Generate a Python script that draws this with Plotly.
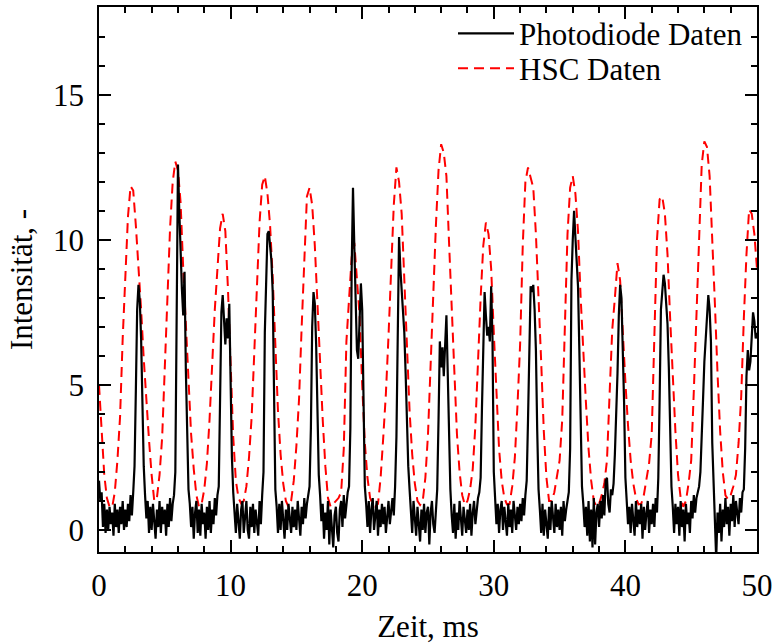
import numpy as np
import plotly.graph_objects as go

# ---------------- data ----------------
# Photodiode signal, sampled every 0.1 ms from 0.0 to 50.0 ms (one row = 1 ms)
photodiode = [
    1.7, 1.0, 1.3, 0.1, 0.9, -0.1, 0.7, 0.0, 0.8, 0.2,
    0.6, -0.2, 0.9, 0.1, 0.7, -0.1, 0.8, 0.2, 1.0, 0.0,
    0.7, 0.1, 0.9, 0.3, 1.2, 0.5, 1.3, 2.2, 4.8, 7.6,
    8.45, 7.9, 6.6, 4.2, 2.2, 1.2, 0.4, 1.0, -0.1, 0.8,
    0.0, 0.9, 0.2, -0.3, 0.7, 0.1, 1.0, -0.1, 0.8, 0.2,
    0.7, -0.2, 0.9, 0.1, 1.1, 0.3, 0.9, 1.2, 2.0, 7.5,
    12.6, 11.0, 9.4, 8.3, 7.4, 8.9, 5.5, 2.8, 1.4, 0.9,
    0.1, 0.8, -0.3, 0.6, 1.0, -0.1, 0.7, -0.2, 0.9, 0.2,
    0.6, -0.3, 0.8, 0.0, 1.0, -0.1, 0.7, 0.2, 1.1, 0.5,
    1.2, 1.5, 4.5, 7.5, 8.1, 7.0, 6.4, 7.3, 6.6, 7.8,
    5.0, 2.5, 1.3, 0.6, -0.1, 0.9, 0.1, -0.3, 0.7, 1.0,
    -0.1, 0.6, 1.0, 0.0, -0.3, 0.8, 0.1, 0.9, -0.1, 0.7,
    0.3, -0.2, 1.0, 0.2, 1.2, 2.0, 6.8, 9.0, 10.2, 10.3,
    9.9, 9.3, 8.2, 3.5, 1.4, 0.8, -0.1, 0.9, 0.0, 1.0,
    0.2, -0.3, 0.7, 0.0, 0.9, 0.3, -0.1, 0.8, 0.1, 0.7,
    0.0, 1.0, 0.3, -0.2, 0.8, 0.2, 1.1, 0.4, 0.9, 1.3,
    1.5, 3.5, 7.0, 8.2, 7.8, 6.4, 4.0, 1.9, 1.2, 0.3,
    0.9, -0.3, 0.6, 0.0, 1.0, -0.5, 0.7, 0.1, -0.6, 0.5,
    0.8, -0.1, -0.4, 0.7, 1.0, 0.1, 1.2, 0.4, 0.9, 1.3,
    1.5, 3.5, 9.0, 11.8, 9.8, 7.8, 6.2, 5.9, 7.2, 8.5,
    7.6, 3.8, 1.5, 0.9, 0.1, 1.0, -0.1, 0.7, 1.1, 0.0,
    0.6, 1.0, -0.2, 0.7, 0.1, 0.9, 0.2, 0.8, -0.1, 0.6,
    1.0, 0.2, 0.8, 1.1, 0.5, 1.5, 3.2, 7.0, 10.1, 9.0,
    8.2, 7.5, 6.8, 5.4, 3.6, 2.2, 1.4, 0.7, -0.1, 1.0,
    0.3, -0.2, 0.8, 0.1, -0.4, 0.7, 0.0, 0.9, -0.1, 0.6,
    0.8, -0.5, 0.6, 1.0, 0.2, -0.1, 0.9, 1.4, 3.8, 6.5,
    5.6, 6.3, 5.3, 6.6, 7.4, 5.4, 2.8, 1.4, 0.5, -0.1,
    0.9, -0.3, 0.6, 0.0, 1.0, 0.2, -0.2, 0.8, 0.3, -0.1,
    0.7, 0.0, 0.9, -0.2, 0.6, 1.0, 0.2, 0.8, 1.1, 1.3,
    1.8, 4.2, 6.8, 8.2, 7.4, 6.7, 7.0, 6.5, 8.4, 6.6,
    2.0, 1.1, 0.2, 0.9, -0.1, 0.7, 1.0, 0.0, 0.8, 0.3,
    -0.2, 0.9, 0.1, 0.7, -0.1, 1.0, 0.3, 0.0, 0.8, 0.2,
    0.9, 0.3, 1.1, 0.5, 1.2, 1.7, 3.8, 6.2, 8.4, 8.2,
    8.45, 7.6, 6.2, 3.4, 1.4, 0.7, -0.1, 0.9, -0.2, 0.7,
    0.2, -0.3, 0.8, 0.0, 1.0, 0.3, -0.1, 0.9, 0.1, 0.7,
    0.0, 0.8, -0.2, 1.0, 0.3, 0.7, 1.1, 1.3, 2.8, 8.6,
    10.0, 11.0, 10.1, 9.1, 8.4, 6.2, 3.5, 1.5, 0.9, 0.1,
    0.8, -0.2, 1.0, -0.4, 0.7, -0.6, 1.1, -0.5, 0.6, 0.9,
    0.1, 1.0, 0.4, 1.2, 0.5, 1.7, 1.8, 0.9, 0.6, 1.4,
    1.2, 1.6, 2.6, 3.8, 5.4, 7.4, 8.45, 8.0, 6.5, 4.4,
    1.8, 1.0, 0.2, 0.8, -0.1, 0.9, 0.3, -0.2, 1.0, 0.1,
    0.7, 0.2, 0.9, -0.3, 0.8, 0.0, 0.6, 1.0, -0.1, 0.7,
    0.2, 0.9, 0.1, 1.1, 0.6, 1.8, 4.5, 7.6, 8.2, 8.8,
    8.5, 7.7, 7.1, 5.6, 3.5, 1.5, 0.8, -0.1, 0.9, 0.2,
    0.8, -0.2, 1.0, 0.1, 0.7, -0.4, 0.9, 0.2, 0.6, -0.1,
    1.0, 0.4, 1.2, 0.6, 1.1, 1.3, 1.5, 2.0, 3.6, 4.5,
    5.8, 6.6, 7.3, 8.1, 7.6, 6.5, 3.0, 1.5, 0.5, -1.0,
    0.6, -0.1, 0.9, -0.4, 0.7, 0.1, 1.1, 0.2, 0.8, -0.2,
    0.9, 0.3, 1.2, 0.1, 1.0, 0.5, 0.2, 1.1, 0.6, 1.3,
    1.4, 2.8, 5.3, 6.2, 5.5, 5.8, 6.6, 7.5, 7.2, 6.6,
    6.8,
]
t_photodiode = np.round(np.arange(len(photodiode)) * 0.1, 2)

# High-speed-camera signal, sampled every 0.2 ms from 0.0 to 50.0 ms (one row = 1 ms)
hsc = [
    5.0, 3.2, 1.9, 1.1, 0.8,
    0.78, 1.3, 2.4, 3.9, 6.6,
    8.9, 10.8, 11.85, 11.7, 10.5,
    9.2, 7.6, 5.9, 4.3, 3.1,
    1.9, 1.0, 1.1, 1.9, 3.2,
    5.6, 8.1, 10.4, 12.0, 12.7,
    12.4, 11.3, 9.0, 6.9, 4.8,
    3.3, 2.1, 1.2, 0.8, 0.9,
    1.4, 2.3, 3.8, 5.8, 7.6,
    9.0, 10.4, 10.9, 10.3, 8.3,
    6.0, 3.2, 1.7, 1.1, 0.92,
    1.0, 1.5, 2.5, 3.9, 6.3,
    8.6, 10.6, 11.9, 12.2, 11.6,
    10.5, 8.7, 6.2, 4.1, 2.6,
    1.6, 1.0, 0.8, 1.0, 1.7,
    2.9, 4.5, 7.0, 9.3, 11.5,
    11.8, 11.2, 9.8, 7.6, 5.7,
    3.8, 2.2, 1.1, 0.8, 0.9,
    1.0, 1.1, 1.3, 2.8, 6.5,
    7.8, 9.4, 9.9, 8.6, 7.4,
    5.0, 3.0, 1.8, 1.1, 0.9,
    0.8, 0.9, 1.8, 3.2, 4.7,
    6.7, 8.8, 11.2, 12.5, 12.0,
    10.9, 8.6, 6.1, 4.1, 2.6,
    1.6, 1.0, 0.86, 1.0, 1.8,
    3.3, 5.8, 8.2, 10.5, 12.4,
    13.3, 13.0, 12.2, 9.9, 7.5,
    5.2, 3.3, 2.0, 1.2, 0.86,
    1.0, 1.4, 2.1, 3.6, 5.9,
    8.0, 9.8, 10.6, 10.2, 9.0,
    6.8, 4.6, 2.8, 1.7, 1.1,
    0.88, 0.9, 1.5, 2.5, 4.3,
    6.4, 9.8, 12.0, 12.5, 12.1,
    11.8, 10.2, 8.2, 5.8, 3.4,
    1.8, 1.0, 1.0, 1.3, 1.8,
    2.4, 3.8, 7.1, 10.2, 11.8,
    12.2, 11.6, 10.3, 8.0, 6.0,
    4.4, 2.8, 1.7, 1.0, 0.8,
    0.9, 1.2, 1.6, 2.4, 4.7,
    6.9, 8.0, 9.2, 8.6, 6.7,
    5.1, 3.6, 2.4, 1.6, 1.1,
    0.88, 0.9, 1.2, 1.7, 2.3,
    3.3, 6.3, 10.0, 11.4, 11.5,
    10.9, 9.5, 7.3, 5.3, 3.4,
    1.9, 1.1, 0.8, 1.0, 1.6,
    2.4, 4.8, 7.4, 10.0, 12.6,
    13.4, 13.2, 12.2, 10.2, 7.8,
    5.4, 3.4, 2.0, 1.2, 1.05,
    1.2, 1.5, 1.9, 3.0, 4.6,
    7.3, 9.5, 11.05, 10.9, 10.2,
    9.0,
]
t_hsc = np.round(np.arange(len(hsc)) * 0.2, 2)

x_ticks = [0, 10, 20, 30, 40, 50]
y_ticks = [0, 5, 10, 15]

FONT = "Liberation Serif, Times New Roman, serif"

fig = go.Figure()
fig.add_trace(go.Scatter(
    x=t_hsc, y=hsc, mode="lines", name="HSC Daten", legend="legend2",
    line=dict(color="#ff0000", width=2, dash="10px,6px"),
))
fig.add_trace(go.Scatter(
    x=t_photodiode, y=photodiode, mode="lines", name="Photodiode Daten", legend="legend",
    line=dict(color="black", width=2.2),
))

axis_common = dict(
    showgrid=False, zeroline=False, automargin=False,
    showline=True, linecolor="black", linewidth=1.5, mirror="ticks",
    ticks="inside", ticklen=12, tickwidth=1.5, tickcolor="black",
    tickfont=dict(family=FONT, size=31, color="black"),
)

legend_common = dict(
    xanchor="left", yanchor="middle",
    bgcolor="rgba(0,0,0,0)", borderwidth=0,
    font=dict(family=FONT, size=31, color="black"),
    itemwidth=56,
)

fig.update_layout(
    width=774, height=644,
    margin=dict(l=99, r=17, t=7, b=92),
    paper_bgcolor="white", plot_bgcolor="white",
    font=dict(family=FONT, size=31, color="black"),
    showlegend=True,
    legend=dict(x=0.538, y=0.951, **legend_common),
    legend2=dict(x=0.538, y=0.887, **legend_common),
    xaxis=dict(
        range=[0, 50], tickvals=x_ticks, ticklabelstandoff=5,
        minor=dict(dtick=2, ticks="inside", ticklen=6, tickwidth=1.5, tickcolor="black"),
        title=dict(text="Zeit, ms", font=dict(family=FONT, size=31), standoff=14),
        **axis_common,
    ),
    yaxis=dict(
        range=[-0.76, 18.03], tickvals=y_ticks, ticklabelstandoff=7,
        minor=dict(dtick=1, ticks="inside", ticklen=6, tickwidth=1.5, tickcolor="black"),
        title=dict(text="Intensität, -", font=dict(family=FONT, size=31), standoff=11),
        **axis_common,
    ),
)

fig.write_html(
    "out.html",
    config={"displayModeBar": False},
    post_script="document.body.style.margin='0px';",
)
